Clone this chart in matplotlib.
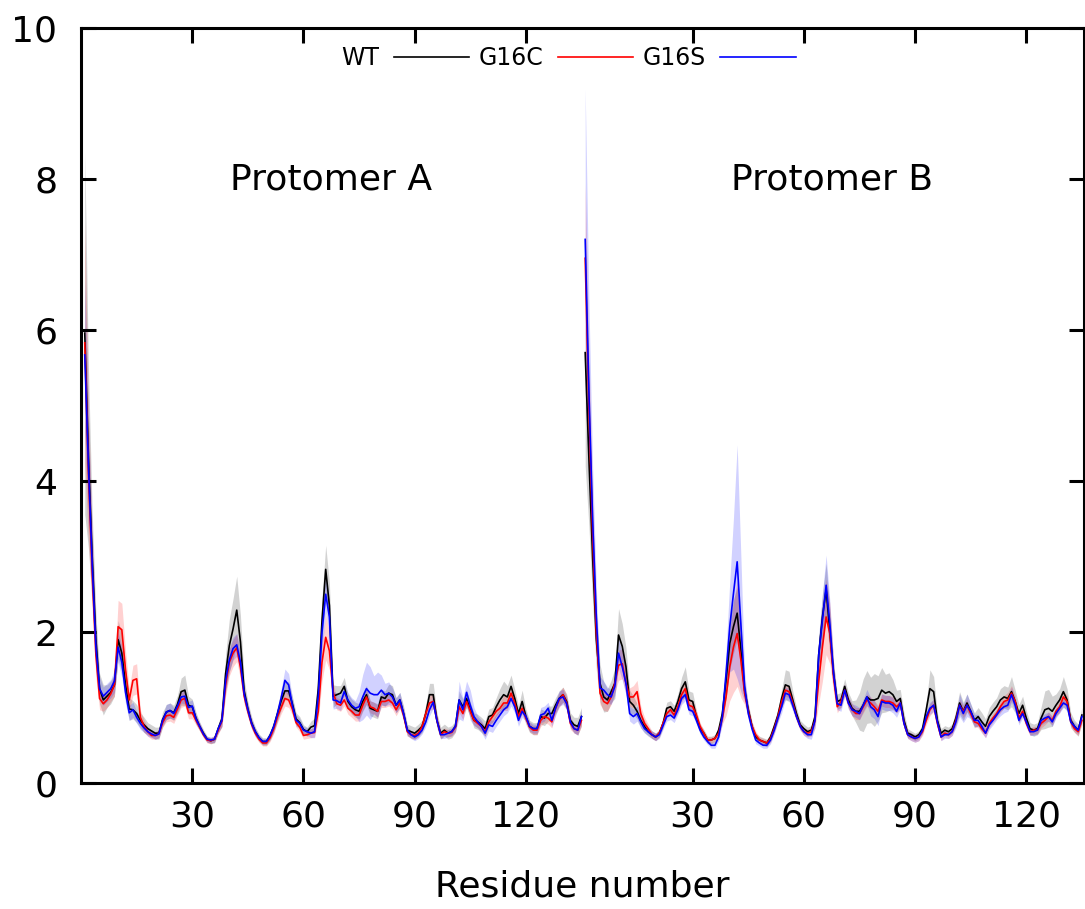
import numpy as np
import matplotlib
matplotlib.use("Agg")
import matplotlib.pyplot as plt

# ----------------------------------------------------------------------
# ## Data: per-residue RMSF (mean and spread) for each protomer
# ----------------------------------------------------------------------

CHAIN_OFFSET = 135          # protomer B is drawn after protomer A
TICK_RESIDUES = [30, 60, 90, 120]

A_WT = [5.96, 4.30, 3.00, 1.90, 1.25, 1.10, 1.15, 1.20, 1.30, 1.90,
        1.72, 1.30, 0.98, 0.97, 0.92, 0.83, 0.77, 0.72, 0.69, 0.66,
        0.66, 0.84, 0.94, 0.96, 0.93, 1.04, 1.21, 1.23, 1.03, 1.01,
        0.86, 0.75, 0.66, 0.58, 0.56, 0.58, 0.72, 0.85, 1.45, 1.82,
        2.04, 2.29, 1.87, 1.22, 0.98, 0.80, 0.68, 0.60, 0.55, 0.55,
        0.63, 0.75, 0.92, 1.09, 1.22, 1.22, 1.05, 0.85, 0.80, 0.71,
        0.68, 0.74, 0.76, 1.25, 2.15, 2.83, 2.35, 1.15, 1.17, 1.19,
        1.28, 1.08, 1.01, 0.97, 0.95, 1.08, 1.17, 0.99, 0.97, 0.95,
        1.14, 1.12, 1.19, 1.17, 1.03, 1.10, 0.92, 0.70, 0.68, 0.66,
        0.70, 0.75, 0.92, 1.17, 1.17, 0.83, 0.66, 0.70, 0.66, 0.68,
        0.75, 1.10, 1.01, 1.12, 0.97, 0.83, 0.81, 0.77, 0.72, 0.88,
        0.90, 1.01, 1.10, 1.17, 1.14, 1.28, 1.12, 0.92, 1.08, 0.88,
        0.75, 0.72, 0.72, 0.88, 0.86, 0.92, 0.92, 1.03, 1.12, 1.17,
        1.08, 0.83, 0.77, 0.75, 0.88]

A_G16C = [5.83, 4.10, 2.80, 1.70, 1.12, 1.05, 1.10, 1.18, 1.30, 2.07,
          2.03, 1.50, 1.10, 1.36, 1.38, 0.87, 0.75, 0.68, 0.63, 0.63,
          0.65, 0.80, 0.89, 0.90, 0.87, 0.98, 1.10, 1.12, 0.93, 0.93,
          0.83, 0.74, 0.64, 0.57, 0.56, 0.58, 0.70, 0.82, 1.30, 1.60,
          1.72, 1.79, 1.53, 1.15, 0.95, 0.78, 0.66, 0.58, 0.53, 0.53,
          0.60, 0.72, 0.88, 1.00, 1.12, 1.10, 0.98, 0.80, 0.74, 0.63,
          0.64, 0.66, 0.67, 0.95, 1.60, 1.93, 1.75, 1.20, 1.05, 1.03,
          1.10, 0.99, 0.95, 0.90, 0.90, 1.03, 1.14, 1.01, 0.99, 0.95,
          1.08, 1.08, 1.10, 1.06, 0.97, 1.06, 0.90, 0.68, 0.64, 0.63,
          0.66, 0.75, 0.92, 1.06, 1.08, 0.83, 0.64, 0.68, 0.66, 0.67,
          0.74, 1.01, 0.92, 1.08, 0.95, 0.83, 0.79, 0.75, 0.68, 0.81,
          0.88, 0.95, 0.99, 1.06, 1.06, 1.19, 1.06, 0.88, 0.99, 0.86,
          0.74, 0.70, 0.70, 0.83, 0.88, 0.86, 0.81, 0.99, 1.10, 1.17,
          1.06, 0.79, 0.72, 0.70, 0.83]

A_G16S = [5.67, 4.20, 2.90, 1.80, 1.25, 1.15, 1.20, 1.25, 1.35, 1.80,
          1.60, 1.20, 0.93, 0.97, 0.87, 0.79, 0.73, 0.68, 0.65, 0.63,
          0.65, 0.83, 0.94, 0.96, 0.92, 1.02, 1.14, 1.15, 1.00, 1.02,
          0.85, 0.75, 0.65, 0.58, 0.57, 0.58, 0.72, 0.83, 1.36, 1.63,
          1.78, 1.83, 1.60, 1.18, 0.97, 0.79, 0.68, 0.60, 0.55, 0.55,
          0.63, 0.75, 0.92, 1.13, 1.36, 1.30, 1.03, 0.83, 0.79, 0.70,
          0.68, 0.66, 0.68, 1.16, 2.00, 2.50, 2.20, 1.10, 1.09, 1.06,
          1.21, 1.10, 1.03, 0.99, 1.01, 1.14, 1.25, 1.19, 1.17, 1.17,
          1.23, 1.17, 1.19, 1.14, 1.03, 1.10, 0.92, 0.70, 0.64, 0.61,
          0.64, 0.70, 0.81, 0.97, 1.07, 0.83, 0.64, 0.64, 0.66, 0.68,
          0.75, 1.10, 0.97, 1.20, 1.03, 0.88, 0.81, 0.75, 0.66, 0.77,
          0.75, 0.83, 0.90, 0.97, 1.01, 1.12, 1.01, 0.83, 0.95, 0.88,
          0.75, 0.72, 0.72, 0.90, 0.92, 0.99, 0.83, 0.99, 1.12, 1.14,
          1.05, 0.81, 0.72, 0.70, 0.88]

B_WT = [5.70, 4.30, 3.00, 1.90, 1.32, 1.14, 1.10, 1.21, 1.32, 1.96,
        1.81, 1.54, 1.08, 1.03, 0.95, 0.83, 0.75, 0.68, 0.64, 0.61,
        0.66, 0.79, 0.99, 1.01, 0.95, 1.08, 1.25, 1.34, 1.10, 1.08,
        0.88, 0.72, 0.66, 0.57, 0.57, 0.59, 0.70, 0.92, 1.36, 1.85,
        2.07, 2.25, 1.76, 1.23, 0.97, 0.75, 0.61, 0.57, 0.55, 0.53,
        0.61, 0.75, 0.90, 1.12, 1.30, 1.28, 1.10, 0.92, 0.77, 0.72,
        0.68, 0.70, 0.88, 1.70, 2.20, 2.56, 2.00, 1.45, 1.08, 1.10,
        1.28, 1.10, 0.99, 0.95, 0.95, 1.03, 1.14, 1.10, 1.10, 1.12,
        1.23, 1.19, 1.21, 1.17, 1.08, 1.12, 0.83, 0.66, 0.64, 0.61,
        0.64, 0.72, 0.97, 1.25, 1.21, 0.83, 0.66, 0.70, 0.68, 0.72,
        0.86, 1.06, 0.95, 1.06, 0.95, 0.83, 0.88, 0.81, 0.75, 0.88,
        0.95, 1.01, 1.10, 1.14, 1.12, 1.21, 1.08, 0.92, 1.03, 0.86,
        0.72, 0.70, 0.72, 0.86, 0.97, 0.99, 0.95, 1.03, 1.10, 1.21,
        1.10, 0.83, 0.75, 0.70, 0.90]

B_G16C = [6.95, 5.00, 3.30, 2.00, 1.19, 1.08, 1.05, 1.14, 1.32, 1.56,
          1.58, 1.32, 1.14, 1.14, 1.21, 0.92, 0.79, 0.72, 0.64, 0.61,
          0.66, 0.79, 0.92, 0.97, 0.90, 1.01, 1.17, 1.25, 1.03, 1.01,
          0.90, 0.75, 0.66, 0.57, 0.57, 0.59, 0.66, 0.86, 1.14, 1.54,
          1.80, 1.98, 1.63, 1.19, 0.95, 0.75, 0.64, 0.57, 0.55, 0.53,
          0.59, 0.72, 0.88, 1.08, 1.23, 1.21, 1.06, 0.88, 0.75, 0.68,
          0.66, 0.68, 0.83, 1.35, 1.80, 2.20, 1.98, 1.40, 1.01, 1.08,
          1.23, 1.06, 0.97, 0.92, 0.92, 1.01, 1.10, 1.06, 1.01, 0.95,
          1.10, 1.08, 1.08, 1.06, 1.01, 1.06, 0.79, 0.64, 0.61, 0.59,
          0.61, 0.68, 0.83, 0.97, 1.03, 0.79, 0.61, 0.66, 0.64, 0.68,
          0.83, 1.03, 0.95, 1.03, 0.92, 0.81, 0.79, 0.72, 0.66, 0.79,
          0.86, 0.92, 1.01, 1.08, 1.10, 1.19, 1.08, 0.86, 0.95, 0.79,
          0.68, 0.70, 0.70, 0.79, 0.83, 0.88, 0.83, 0.95, 1.01, 1.14,
          1.08, 0.81, 0.72, 0.68, 0.83]

B_G16S = [7.20, 5.20, 3.50, 2.20, 1.26, 1.23, 1.17, 1.14, 1.28, 1.72,
          1.54, 1.32, 0.92, 0.88, 0.92, 0.81, 0.72, 0.68, 0.64, 0.61,
          0.64, 0.76, 0.88, 0.90, 0.86, 0.97, 1.12, 1.17, 0.97, 0.95,
          0.83, 0.70, 0.61, 0.55, 0.50, 0.50, 0.61, 0.88, 1.45, 2.07,
          2.51, 2.93, 2.11, 1.28, 0.92, 0.72, 0.57, 0.53, 0.50, 0.50,
          0.57, 0.70, 0.86, 1.01, 1.19, 1.17, 1.03, 0.88, 0.75, 0.68,
          0.64, 0.64, 0.83, 1.70, 2.16, 2.62, 2.11, 1.45, 1.05, 1.03,
          1.23, 1.06, 0.97, 0.95, 0.92, 1.03, 1.14, 1.01, 0.97, 0.88,
          1.08, 1.06, 1.06, 1.03, 0.95, 1.06, 0.79, 0.64, 0.61, 0.59,
          0.61, 0.70, 0.88, 0.99, 1.03, 0.81, 0.61, 0.64, 0.64, 0.68,
          0.81, 1.03, 0.92, 1.03, 0.95, 0.83, 0.83, 0.75, 0.66, 0.77,
          0.83, 0.90, 0.97, 1.01, 1.03, 1.17, 1.03, 0.83, 0.92, 0.81,
          0.68, 0.68, 0.70, 0.83, 0.86, 0.88, 0.81, 0.92, 0.99, 1.06,
          1.03, 0.81, 0.75, 0.70, 0.88]

# Standard deviations (shaded bands)
A_WT_SD = [2.40, 1.20, 0.60, 0.35, 0.20, 0.20, 0.15, 0.15, 0.15, 0.25,
           0.25, 0.20, 0.15, 0.12, 0.12, 0.10, 0.10, 0.08, 0.08, 0.08,
           0.08, 0.10, 0.10, 0.10, 0.10, 0.12, 0.18, 0.20, 0.12, 0.10,
           0.08, 0.06, 0.05, 0.04, 0.04, 0.05, 0.06, 0.10, 0.25, 0.35,
           0.40, 0.45, 0.35, 0.15, 0.10, 0.08, 0.06, 0.05, 0.05, 0.05,
           0.06, 0.08, 0.10, 0.12, 0.12, 0.12, 0.10, 0.08, 0.08, 0.06,
           0.06, 0.08, 0.10, 0.20, 0.30, 0.32, 0.30, 0.15, 0.12, 0.10,
           0.12, 0.10, 0.10, 0.10, 0.10, 0.12, 0.12, 0.10, 0.10, 0.10,
           0.10, 0.10, 0.12, 0.12, 0.10, 0.10, 0.10, 0.08, 0.08, 0.08,
           0.08, 0.08, 0.12, 0.15, 0.15, 0.10, 0.08, 0.08, 0.08, 0.08,
           0.08, 0.12, 0.10, 0.12, 0.10, 0.10, 0.10, 0.10, 0.10, 0.10,
           0.10, 0.12, 0.15, 0.18, 0.15, 0.15, 0.12, 0.10, 0.15, 0.10,
           0.08, 0.08, 0.08, 0.10, 0.10, 0.10, 0.10, 0.10, 0.10, 0.10,
           0.10, 0.10, 0.10, 0.12, 0.12]

A_G16C_SD = [1.60, 0.90, 0.50, 0.30, 0.15, 0.10, 0.10, 0.10, 0.15, 0.35,
             0.35, 0.25, 0.15, 0.20, 0.20, 0.10, 0.08, 0.06, 0.05, 0.05,
             0.05, 0.06, 0.08, 0.08, 0.08, 0.08, 0.10, 0.10, 0.08, 0.08,
             0.06, 0.05, 0.04, 0.04, 0.04, 0.04, 0.05, 0.08, 0.15, 0.18,
             0.18, 0.18, 0.15, 0.10, 0.08, 0.06, 0.05, 0.04, 0.04, 0.04,
             0.05, 0.06, 0.08, 0.08, 0.10, 0.10, 0.08, 0.06, 0.06, 0.05,
             0.05, 0.06, 0.06, 0.12, 0.25, 0.30, 0.25, 0.12, 0.08, 0.08,
             0.08, 0.08, 0.08, 0.08, 0.08, 0.08, 0.10, 0.08, 0.08, 0.08,
             0.08, 0.08, 0.08, 0.08, 0.08, 0.08, 0.06, 0.05, 0.05, 0.05,
             0.05, 0.06, 0.08, 0.10, 0.10, 0.08, 0.05, 0.05, 0.05, 0.05,
             0.06, 0.08, 0.08, 0.08, 0.08, 0.06, 0.06, 0.06, 0.06, 0.08,
             0.08, 0.08, 0.08, 0.10, 0.10, 0.10, 0.08, 0.06, 0.08, 0.06,
             0.06, 0.06, 0.06, 0.08, 0.08, 0.08, 0.08, 0.08, 0.10, 0.10,
             0.10, 0.08, 0.06, 0.06, 0.08]

A_G16S_SD = [1.00, 0.60, 0.40, 0.30, 0.15, 0.12, 0.12, 0.12, 0.15, 0.20,
             0.20, 0.15, 0.10, 0.10, 0.08, 0.08, 0.06, 0.06, 0.05, 0.05,
             0.05, 0.06, 0.10, 0.10, 0.08, 0.08, 0.08, 0.10, 0.08, 0.08,
             0.06, 0.05, 0.04, 0.04, 0.04, 0.04, 0.05, 0.08, 0.12, 0.15,
             0.15, 0.15, 0.12, 0.10, 0.08, 0.06, 0.05, 0.04, 0.04, 0.04,
             0.05, 0.06, 0.08, 0.12, 0.15, 0.15, 0.10, 0.08, 0.06, 0.05,
             0.05, 0.06, 0.08, 0.15, 0.25, 0.25, 0.22, 0.12, 0.10, 0.10,
             0.10, 0.10, 0.10, 0.10, 0.20, 0.30, 0.35, 0.35, 0.25, 0.30,
             0.20, 0.15, 0.15, 0.12, 0.10, 0.10, 0.08, 0.06, 0.05, 0.05,
             0.05, 0.05, 0.06, 0.08, 0.08, 0.06, 0.05, 0.05, 0.05, 0.05,
             0.06, 0.25, 0.15, 0.15, 0.20, 0.12, 0.08, 0.08, 0.08, 0.08,
             0.08, 0.08, 0.08, 0.08, 0.08, 0.10, 0.08, 0.08, 0.08, 0.06,
             0.06, 0.06, 0.06, 0.10, 0.10, 0.08, 0.08, 0.10, 0.10, 0.10,
             0.08, 0.06, 0.06, 0.06, 0.08]

B_WT_SD = [1.50, 0.90, 0.60, 0.40, 0.25, 0.20, 0.15, 0.15, 0.20, 0.35,
           0.30, 0.25, 0.15, 0.12, 0.10, 0.10, 0.08, 0.06, 0.05, 0.05,
           0.05, 0.06, 0.08, 0.08, 0.08, 0.10, 0.15, 0.20, 0.12, 0.12,
           0.08, 0.06, 0.05, 0.05, 0.05, 0.05, 0.06, 0.10, 0.25, 0.35,
           0.35, 0.35, 0.25, 0.12, 0.08, 0.06, 0.05, 0.05, 0.05, 0.05,
           0.05, 0.06, 0.08, 0.12, 0.20, 0.20, 0.12, 0.08, 0.06, 0.06,
           0.06, 0.06, 0.10, 0.20, 0.30, 0.35, 0.30, 0.15, 0.10, 0.10,
           0.10, 0.10, 0.10, 0.15, 0.25, 0.35, 0.35, 0.30, 0.35, 0.30,
           0.30, 0.25, 0.25, 0.20, 0.15, 0.12, 0.10, 0.06, 0.05, 0.05,
           0.05, 0.06, 0.10, 0.25, 0.20, 0.10, 0.06, 0.06, 0.06, 0.06,
           0.10, 0.15, 0.12, 0.12, 0.10, 0.10, 0.12, 0.12, 0.10, 0.12,
           0.12, 0.12, 0.15, 0.15, 0.15, 0.20, 0.15, 0.12, 0.12, 0.10,
           0.08, 0.08, 0.08, 0.15, 0.25, 0.25, 0.20, 0.15, 0.15, 0.20,
           0.15, 0.10, 0.08, 0.08, 0.10]

B_G16C_SD = [1.00, 0.70, 0.50, 0.30, 0.15, 0.12, 0.10, 0.10, 0.12, 0.20,
             0.20, 0.15, 0.12, 0.15, 0.15, 0.10, 0.08, 0.06, 0.05, 0.05,
             0.05, 0.05, 0.06, 0.06, 0.06, 0.08, 0.10, 0.10, 0.08, 0.08,
             0.06, 0.05, 0.04, 0.04, 0.04, 0.04, 0.05, 0.08, 0.25, 0.45,
             0.60, 0.70, 0.50, 0.15, 0.08, 0.06, 0.05, 0.04, 0.04, 0.04,
             0.05, 0.06, 0.06, 0.08, 0.08, 0.08, 0.08, 0.06, 0.05, 0.05,
             0.05, 0.06, 0.10, 0.30, 0.45, 0.50, 0.40, 0.20, 0.08, 0.08,
             0.08, 0.08, 0.08, 0.08, 0.08, 0.08, 0.08, 0.08, 0.08, 0.08,
             0.08, 0.08, 0.08, 0.08, 0.08, 0.08, 0.06, 0.05, 0.05, 0.05,
             0.05, 0.05, 0.06, 0.08, 0.08, 0.06, 0.05, 0.05, 0.05, 0.05,
             0.06, 0.08, 0.08, 0.08, 0.06, 0.06, 0.06, 0.06, 0.06, 0.06,
             0.06, 0.06, 0.08, 0.08, 0.10, 0.10, 0.08, 0.06, 0.06, 0.06,
             0.05, 0.05, 0.05, 0.06, 0.06, 0.06, 0.06, 0.06, 0.08, 0.08,
             0.08, 0.06, 0.05, 0.05, 0.06]

B_G16S_SD = [2.00, 1.20, 0.70, 0.40, 0.15, 0.12, 0.10, 0.10, 0.12, 0.20,
             0.18, 0.15, 0.10, 0.10, 0.10, 0.08, 0.06, 0.05, 0.05, 0.05,
             0.05, 0.05, 0.06, 0.06, 0.06, 0.06, 0.08, 0.08, 0.06, 0.06,
             0.05, 0.05, 0.04, 0.04, 0.04, 0.04, 0.05, 0.10, 0.30, 0.60,
             1.00, 1.55, 0.90, 0.20, 0.08, 0.06, 0.05, 0.04, 0.04, 0.04,
             0.05, 0.05, 0.06, 0.08, 0.08, 0.08, 0.08, 0.06, 0.05, 0.05,
             0.05, 0.06, 0.10, 0.25, 0.35, 0.40, 0.30, 0.15, 0.08, 0.08,
             0.08, 0.08, 0.08, 0.08, 0.08, 0.08, 0.10, 0.12, 0.12, 0.12,
             0.10, 0.10, 0.10, 0.10, 0.08, 0.08, 0.06, 0.05, 0.05, 0.05,
             0.05, 0.05, 0.06, 0.08, 0.08, 0.06, 0.05, 0.05, 0.05, 0.05,
             0.08, 0.15, 0.12, 0.15, 0.10, 0.08, 0.08, 0.08, 0.06, 0.06,
             0.06, 0.06, 0.08, 0.08, 0.08, 0.10, 0.08, 0.06, 0.06, 0.06,
             0.05, 0.05, 0.05, 0.06, 0.06, 0.06, 0.06, 0.06, 0.06, 0.06,
             0.06, 0.05, 0.05, 0.05, 0.06]

# ----------------------------------------------------------------------
# ## Plot
# ----------------------------------------------------------------------

plt.rcParams['font.family'] = ['DejaVu Sans']

# (label, line colour, band colour, band alpha, mean A, sd A, mean B, sd B)
series = [
    ('WT', 'black', 'gray', 0.35, A_WT, A_WT_SD, B_WT, B_WT_SD),
    ('G16C', 'red', 'red', 0.18, A_G16C, A_G16C_SD, B_G16C, B_G16C_SD),
    ('G16S', 'blue', 'blue', 0.18, A_G16S, A_G16S_SD, B_G16S, B_G16S_SD),
]

fig = plt.figure(figsize=(10.85, 9.09), dpi=100)
ax = fig.add_axes([0.0747, 0.1386, 0.9245, 0.8306])

# bands first so every line sits on top
for label, color, band, alpha, ma, sa, mb, sb in series:
    for mean, sd, offset in [(ma, sa, 0), (mb, sb, CHAIN_OFFSET)]:
        mean = np.array(mean)
        sd = np.array(sd)
        x = np.arange(1, len(mean) + 1) + offset
        ax.fill_between(x, mean - sd, mean + sd, color=band, alpha=alpha,
                        linewidth=0)

handles = []
for label, color, band, alpha, ma, sa, mb, sb in series:
    for mean, offset in [(ma, 0), (mb, CHAIN_OFFSET)]:
        x = np.arange(1, len(mean) + 1) + offset
        line, = ax.plot(x, mean, color=color, linewidth=1.2)
    line.set_label(label)
    handles.append(line)

ax.set_xlim(0, 270.6)
ax.set_ylim(0, 10)
ax.set_yticks([0, 2, 4, 6, 8, 10])

ticks = TICK_RESIDUES + [t + CHAIN_OFFSET for t in TICK_RESIDUES]
ax.set_xticks(ticks)
ax.set_xticklabels([str(t) for t in TICK_RESIDUES] * 2)

ax.tick_params(direction='in', length=11, width=2.2, labelsize=26,
               top=True, right=True)
ax.tick_params(axis='x', pad=12)
ax.tick_params(axis='y', pad=17)
for spine in ax.spines.values():
    spine.set_linewidth(2.2)

ax.text(67.5, 8.0, 'Protomer A', fontsize=26, ha='center', va='center')
ax.text(202.5, 8.0, 'Protomer B', fontsize=26, ha='center', va='center')
ax.set_xlabel('Residue number', fontsize=26, labelpad=26)

ax.legend(handles=handles, loc='center', bbox_to_anchor=(0.486, 0.96),
          ncol=3, frameon=False, markerfirst=False, fontsize=17,
          handlelength=3.2, handletextpad=0.6, columnspacing=0.4)

plt.savefig('out.png', dpi=100)
